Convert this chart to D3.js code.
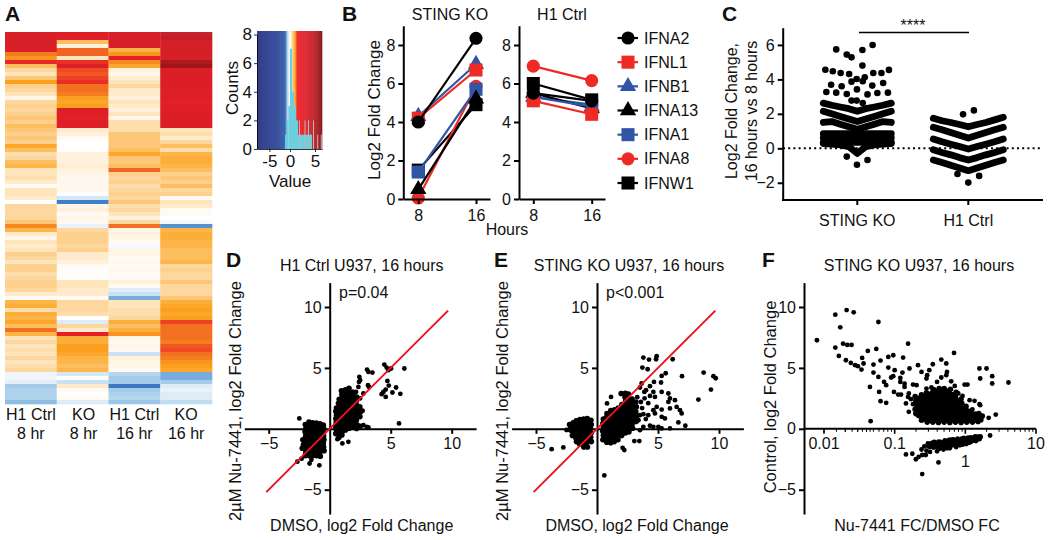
<!DOCTYPE html>
<html><head><meta charset="utf-8">
<script src="https://cdn.jsdelivr.net/npm/d3@7/dist/d3.min.js"></script>
<style>
html,body{margin:0;padding:0;background:#fff}
text{font-family:"Liberation Sans",Arial,sans-serif;fill:#111}
</style></head><body><svg id="c" width="1050" height="540"></svg>
<script>
// ---------- Panel A data
const heatColumns=["H1 Ctrl","KO","H1 Ctrl","KO"];
const heatHours=["8 hr","8 hr","16 hr","16 hr"];
const heatA=[3.2,3.2,3.2,3.2,3.0,1.7,1.5,2.5,1.0,.7,.5,.9,1.4,.8,.7,.5,.2,.7,.8,.7,.8,.9,.8,1.0,.9,.8,.9,.8,1.3,1.0,.6,.7,1.0,1.1,.5,.5,.6,.4,.1,.5,.5,.4,0,.7,.7,.7,.7,.9,1.6,1.1,.4,.2,.5,.4,.5,.8,.7,.5,.8,.8,.6,.7,.8,.8,.7,.4,.1,1.1,1.2,.6,1.2,1.1,1.3,1.0,1.8,1.1,.5,.7,.5,.6,.5,.7,.5,.6,.7,-.15,-.15,-.25,-.9,-.8,-.8,-.8,-1.1];
const heatB=[3,2.8,1.0,.3,1.9,1.9,.5,2.4,3,2.1,2.0,2.2,2.4,1.8,1.8,1.7,1.4,1.3,1.4,3,2.9,2.7,2.9,2.9,.4,.3,.1,0,0,0,.3,.3,.3,.35,.3,.2,.15,.15,.15,.15,-.05,-.4,-1.8,.2,.3,.1,.2,.1,-.2,.7,.8,.8,.8,.7,.8,.4,.4,.3,.1,.05,.05,.05,.5,.5,.4,.4,.1,.7,.7,.7,.6,0,-.3,.7,.4,2.6,1.2,1.2,1.4,1.4,1.3,1.1,1.1,1.0,1.1,-.4,0,-.5,.4,.1,0,.1,-.3];
const heatC=[3.2,3.2,3.2,3.2,1.1,1.5,2.7,1.6,1.3,.3,.2,.35,.5,.7,.4,.4,.3,.5,.4,.3,.5,.2,.6,.6,.6,.9,.9,.9,.9,1.0,1.3,.9,.9,1.0,1.9,.8,.7,.8,.6,.7,.8,.7,.9,.6,.7,.5,.3,.7,1.8,.2,.3,.2,.1,-.1,.2,.2,.1,.15,.1,.15,.1,.1,.3,.1,-.3,-.5,-1.3,.5,.5,.6,.6,.7,1.2,1.0,1.2,1.5,.2,.1,.2,.1,-.5,.3,.2,.2,.1,-.7,-.9,-.9,-2,-.9,-.8,-.7,-1.0];
const heatD=[3.8,4.2,3.3,3.3,3.3,3.4,3.3,5,5.5,3,3,3,3,3,2.9,2.9,2.9,2.7,2.8,2.9,3,3,3,3,.5,.6,.4,.7,1.0,.6,1.1,1.2,1.2,1.1,1.0,.8,.9,.8,1.0,.7,.8,.1,.5,.4,.1,.1,0,-.1,-1.6,1.1,1.2,1.2,1.1,1.1,1.0,1.0,1.0,1.1,.7,.8,.7,.7,.9,.7,.7,.7,.9,1.2,1.3,1.4,1.3,1.4,2.2,1.8,1.8,1.8,1.8,1.7,2.0,2.1,1.8,1.7,1.5,1.4,1.3,-1.3,-1.3,-.9,-.3,-.2,-.3,-.3,-.6];
const heatStopValues=[-8,-3,-1.8,-1,-.5,-.2,0,.3,.5,.8,1.1,1.4,1.7,2.1,2.6,4,5.5,7];
const heatStopColors=["#232f80","#2f4f9f","#3f80c8","#9cc6e8","#c9e1f3","#e9f2fa","#ffffff","#fff1dc","#fee5bc","#fdd08e","#fdb548","#fba01e","#f47d20","#ef4a24","#e61f26","#c4202a","#a01519","#7a0f12"];
const keyStopValues=[-8,-3,-1.2,-.6,0,.4,1,1.4,3,5.4,7];
const keyStopColors=["#232f80","#2c4596","#2f5fae","#bcdcf2","#ffffff","#fdd38a","#f9a01b","#ed1c24","#e0202a","#b01c20","#7a0f12"];
const histStart=[-1.2,-.8,-.4,0,.4,.8,1.2,1.6,2,2.4,2.8,3.2,3.6,4];
const histCounts=[1,2,3,7,4,3,2,1,1,1,1,1,1,1];
const histSparseValues=[1.9,3,3.7,4.7,5.76,6.8];
const histSparseCounts=[2,2,2,2,1,1];
// ---------- Panel B data
const geneNames=["IFNA2","IFNL1","IFNB1","IFNA13","IFNA1","IFNA8","IFNW1"];
const geneColors=["#000","#ee2a24","#2f55a4","#000","#2f55a4","#ee2a24","#000"];
const geneShapes=["circle","square","triangle","triangle","square","circle","square"];
const koValues=[[4.0,8.35],[4.2,6.7],[4.3,7.0],[.5,5.2],[1.4,5.7],[.05,5.85],[1.5,4.9]];
const h1Values=[[5.5,5.1],[5.1,4.4],[5.3,4.8],[5.5,4.7],[5.3,4.9],[6.9,6.15],[6.0,5.15]];
const hourTicks=[8,16];
// ---------- Panel C data
const cGroups=["STING KO","H1 Ctrl"];
const koBandSpread=[-1,-.75,-.5,-.25,0,.25,.5,.75,1];
const koBands=[[2.62,2.5,2.4,2.3,2.15,2.3,2.4,2.5,2.62],[2.15,2.0,1.85,1.7,1.55,1.7,1.85,2.0,2.15],[1.5,1.55,1.4,1.25,1.1,1.25,1.4,1.55,1.5],[.85,.85,.85,.85,.85,.85,.85,.85,.85],[.6,.6,.6,.6,.6,.6,.6,.6,.6],[.35,.35,.35,.35,.35,.35,.35,.35,.35],[.28,.25,.2,.1,-.3,.1,.2,.25,.28]];
const h1Bands=[[1.74,1.6,1.5,1.38,1.25,1.38,1.5,1.65,1.8],[1.22,1.08,.92,.76,.6,.76,.92,1.08,1.22],[.54,.38,.24,.1,-.04,.1,.24,.38,.54],[-.08,-.24,-.38,-.54,-.68,-.54,-.38,-.24,-.08],[-.68,-.82,-.98,-1.14,-1.3,-1.14,-.98,-.82,-.68]];
const koPoints=[[-.62,5.74],[-.31,5.44],[-.17,5.28],[.15,5.71],[.45,6.0],[.15,4.8],[-.94,4.56],[-.72,4.47],[-.49,4.37],[-.24,4.31],[-.02,4.02],[.22,4.12],[-.17,3.87],[.16,3.89],[.47,4.37],[.71,4.37],[.93,4.55],[-.77,3.69],[-.46,3.6],[-.01,3.42],[.44,3.64],[.76,3.79],[-.91,3.27],[-.62,3.23],[-.31,3.15],[.3,3.13],[.59,3.21],[.9,3.23],[-.17,2.77],[-.02,2.77],[.16,2.63],[-.31,-.48],[-.01,-.95],[.3,-.68]];
const h1Points=[[-.15,1.97],[.16,2.2],[-.31,-1.49],[.31,-1.6],[0,-1.99]];
// ---------- Panel D data
const dSparse=[[3.06,4.86],[3.17,4.67],[3.5,4.62],[2.43,4.26],[2.49,3.99],[2.4,3.85],[3.14,3.58],[3.22,3.44],[4.48,5.27],[4.67,5.03],[4.81,4.81],[5.03,4.95],[6.12,4.95],[4.73,3.93],[4.84,3.55],[5.44,3.39],[4.4,3.03],[4.26,2.84],[4.59,3.22],[4.59,2.62],[5.14,2.98],[5.79,2.87],[5.68,.44],[2.49,1.53],[2.7,1.48],[2.76,.3],[3.03,.16],[3.17,.11],[2.02,2.62],[2.49,2.49],[2.76,2.9],[2.35,3.44],[2.16,3.03],[1.04,-1.2],[1.53,-1.07],[.63,-.85],[-2.49,.85],[-2.65,-2.7],[-2.3,-2.45],[-1.65,-2.85],[-.85,-3.0],[-1.5,-2.55]];
const dRightBlob=[[.5,-.4],[.55,-.1],[.48,.2],[.53,.5],[.5,.82],[.56,1.1],[.5,1.42],[.55,1.7],[.75,-.72],[.72,-.3],[.78,0],[.74,.3],[.8,.62],[.73,.9],[.77,1.2],[.74,1.5],[.8,1.8],[.72,2.1],[.78,2.42],[1.0,-.5],[1.04,-.2],[.98,.1],[1.02,.4],[1.06,.7],[.98,1.0],[1.03,1.3],[.99,1.6],[1.05,1.9],[.97,2.2],[1.03,2.5],[1.0,2.82],[.96,3.12],[1.3,-.1],[1.27,.2],[1.33,.5],[1.28,.8],[1.32,1.1],[1.26,1.4],[1.34,1.7],[1.29,2.0],[1.33,2.3],[1.27,2.6],[1.32,2.92],[1.3,3.2],[1.6,.05],[1.63,.3],[1.57,.6],[1.62,.9],[1.58,1.2],[1.64,1.5],[1.59,1.8],[1.62,2.1],[1.57,2.4],[1.63,2.7],[1.6,3.02],[1.58,3.32],[1.9,.12],[1.88,.4],[1.93,.7],[1.87,1.0],[1.92,1.3],[1.89,1.6],[1.94,1.9],[1.88,2.2],[1.92,2.5],[1.9,2.8],[1.87,3.02],[2.2,.02],[2.24,.32],[2.18,.7],[2.22,1.1],[2.17,1.5],[2.23,1.9],[2.19,2.3],[2.21,2.6],[2.5,.2],[2.48,1.0],[2.52,1.4],[2.47,1.8]];
const dLeftBlob=[[-2.2,-.9],[-2.15,-1.3],[-2.25,-1.6],[-2.0,.35],[-1.95,.05],[-2.02,-.25],[-1.97,-.6],[-2.03,-.9],[-1.98,-1.2],[-2.02,-1.55],[-1.96,-1.9],[-2.0,-2.2],[-1.7,.55],[-1.66,.2],[-1.73,-.1],[-1.67,-.4],[-1.72,-.7],[-1.68,-1.0],[-1.74,-1.3],[-1.66,-1.6],[-1.72,-1.9],[-1.68,-2.2],[-1.4,.5],[-1.37,.2],[-1.43,-.12],[-1.38,-.42],[-1.42,-.72],[-1.36,-1.02],[-1.43,-1.32],[-1.38,-1.62],[-1.42,-1.92],[-1.37,-2.2],[-1.1,.48],[-1.07,.18],[-1.13,-.12],[-1.08,-.42],[-1.12,-.72],[-1.06,-1.02],[-1.13,-1.32],[-1.08,-1.62],[-1.12,-1.9],[-1.07,-2.2],[-.8,.42],[-.77,.12],[-.83,-.18],[-.78,-.48],[-.82,-.78],[-.76,-1.08],[-.83,-1.38],[-.78,-1.68],[-.82,-1.98],[-.77,-2.25],[-.52,.3],[-.48,0],[-.54,-.3],[-.5,-.6],[-.47,-.9],[-.53,-1.2],[-.5,-1.5],[-.46,-1.8]];
// ---------- Panel E data
const eSparse=[[3.8,5.85],[4.26,5.68],[4.89,5.96],[4.84,5.71],[6.2,5.71],[3.72,5.03],[4.15,4.89],[5.3,4.34],[5.63,4.56],[8.74,4.62],[6.97,4.32],[9.54,4.32],[9.73,4.15],[9.34,3.22],[8.31,2.4],[3.66,3.72],[3.52,3.39],[4.02,3.17],[3.88,3.03],[4.34,3.5],[4.67,3.85],[5.25,3.8],[4.62,3.03],[4.34,2.7],[4.75,2.62],[5.3,3.03],[5.85,2.9],[5.98,2.49],[5.85,2.21],[6.39,2.35],[6.53,1.8],[6.8,1.53],[6.94,1.26],[5.98,1.67],[5.3,1.58],[4.89,1.8],[4.62,1.53],[3.52,1.12],[3.8,1.2],[4.2,1.12],[4.75,1.26],[5.3,.98],[5.57,.85],[6.67,.52],[7.24,.25],[4.34,.25],[4.62,.16],[5.03,.16],[5.3,.03],[5.98,.03],[3.8,.16],[3.52,-.11],[3.06,-1.01],[3.47,-1.01],[2.1,-1.56],[2.24,-1.75],[.6,-3.83],[1.15,2.62],[.82,2.08],[-3.72,-1.67],[-2.76,-1.53],[-2.5,-.1],[-2.1,-.2],[3.6,2.2],[3.9,2.5],[4.2,2.1],[3.3,2.6],[3.4,.7],[4.0,.8],[3.7,1.7]];
const eRightBlob=[[.48,-.9],[.52,-.55],[.47,-.2],[.53,.12],[.49,.45],[.52,.8],[.8,-1.1],[.83,-.75],[.78,-.4],[.84,-.08],[.79,.25],[.83,.6],[.78,.95],[.82,1.25],[1.12,-1.15],[1.08,-.8],[1.14,-.45],[1.09,-.12],[1.13,.2],[1.07,.55],[1.12,.88],[1.08,1.2],[1.13,1.5],[1.42,-1.05],[1.38,-.72],[1.44,-.4],[1.39,-.08],[1.43,.25],[1.37,.58],[1.42,.9],[1.38,1.22],[1.44,1.55],[1.72,-.9],[1.68,-.58],[1.74,-.25],[1.69,.08],[1.73,.4],[1.67,.72],[1.72,1.05],[1.68,1.38],[1.74,1.7],[2.02,-.55],[1.98,-.25],[2.04,.08],[1.99,.4],[2.03,.72],[1.97,1.05],[2.02,1.38],[1.98,1.7],[2.04,2.0],[1.98,2.9],[2.32,-.35],[2.28,-.02],[2.34,.3],[2.29,.62],[2.33,.95],[2.27,1.28],[2.32,1.6],[2.28,1.92],[2.34,2.25],[2.3,2.6],[2.32,2.92],[2.62,-.25],[2.58,.08],[2.64,.42],[2.59,.75],[2.63,1.08],[2.57,1.4],[2.62,1.72],[2.58,2.05],[2.64,2.4],[2.58,2.85],[2.92,.05],[2.88,.4],[2.94,.75],[2.89,1.1],[2.93,1.42],[2.87,1.75],[2.92,2.1],[2.88,2.45],[3.2,.6],[3.24,1.0],[3.18,1.4],[3.23,1.8],[3.19,2.2]];
const eLeftBlob=[[-2.2,-.05],[-2.25,.35],[-1.95,.5],[-2,.15],[-1.96,-.2],[-2.02,-.55],[-1.7,.65],[-1.66,.3],[-1.72,-.05],[-1.67,-.4],[-1.73,-.75],[-1.68,-1.05],[-1.4,.75],[-1.37,.42],[-1.43,.1],[-1.38,-.25],[-1.42,-.6],[-1.36,-.95],[-1.43,-1.25],[-1.1,.8],[-1.07,.45],[-1.13,.12],[-1.08,-.22],[-1.12,-.55],[-1.06,-.88],[-1.13,-1.2],[-1.08,-1.5],[-.8,.85],[-.77,.5],[-.83,.18],[-.78,-.15],[-.82,-.5],[-.76,-.82],[-.83,-1.15],[-.78,-1.5],[-.5,.7],[-.47,.35],[-.53,0],[-.48,-.35],[-.52,-.7],[-.46,-1.05]];
// ---------- Panel F data  (log10 of FC, control log2 FC)
const fSparse=[[-2.1,7.27],[-1.84,9.37],[-1.68,9.75],[-1.58,9.56],[-1.77,8.33],[-1.23,8.77],[-1.84,6.67],[-1.73,6.99],[-1.67,6.89],[-1.61,6.89],[-1.79,5.98],[-1.69,5.63],[-1.62,5.41],[-1.56,5.22],[-1.52,5.14],[-1.47,4.86],[-1.46,5.82],[-1.44,5.36],[-1.38,6.39],[-1.26,6.56],[-1.2,5.6],[-1.09,5.9],[-1.02,6.04],[-1.3,5.27],[-1.3,4.62],[-1.23,4.26],[-1.35,3.44],[-1.22,3.03],[-1.2,2.27],[-1.12,2.13],[-1.34,.63],[-1.15,3.85],[-1.12,3.58],[-1.09,5.03],[-1.0,4.81],[-1.02,4.32],[-1.05,4.21],[-1.01,3.03],[-.95,2.81],[-.91,2.81],[-.92,4.18],[-.89,4.62],[-.92,3.85],[-.86,3.44],[-.79,4.95],[-.81,6.99],[-.88,5.85],[-.67,5.22],[-.62,4.67],[-.55,4.13],[-.54,4.4],[-.51,4.81],[-.46,5.3],[-.34,5.68],[-.27,5.36],[-.26,4.67],[-.27,4.4],[-.34,4.21],[-.4,3.85],[-.16,6.23],[-.15,3.52],[-.01,3.63],[.03,3.63],[-.04,2.7],[.06,2.35],[.13,2.3],[.2,2.02],[.21,1.94],[.2,4.95],[.21,4.13],[.3,4.95],[.38,4.32],[.38,3.72],[.61,3.8],[.43,1.17],[.33,.9],[-.8,2.9],[-.81,2.62],[-.77,2.43],[-.8,1.39],[-.84,2.08],[-.74,2.02],[-.69,3.58],[-.74,3.63],[-.86,3.7],[-.2,3.9],[-.48,3.4],[-.55,3.3],[-.1,2.9],[.1,1.6],[.14,1.25]];
const fBlob=[[-.7,1.25],[-.71,1.6],[-.69,1.95],[-.7,2.3],[-.71,2.65],[-.62,.7],[-.63,1.05],[-.61,1.4],[-.62,1.75],[-.63,2.1],[-.61,2.45],[-.62,2.8],[-.54,.55],[-.55,.85],[-.53,1.2],[-.54,1.55],[-.55,1.9],[-.53,2.25],[-.54,2.6],[-.55,2.95],[-.46,.55],[-.47,.85],[-.45,1.2],[-.46,1.55],[-.47,1.9],[-.45,2.25],[-.46,2.6],[-.47,2.95],[-.45,3.22],[-.38,.52],[-.39,.85],[-.37,1.2],[-.38,1.55],[-.39,1.9],[-.37,2.25],[-.38,2.6],[-.39,2.95],[-.37,3.3],[-.3,.55],[-.31,.85],[-.29,1.2],[-.3,1.55],[-.31,1.9],[-.29,2.25],[-.3,2.55],[-.29,2.95],[-.3,3.3],[-.22,.52],[-.23,.85],[-.21,1.2],[-.22,1.55],[-.23,1.9],[-.21,2.25],[-.22,2.6],[-.23,2.95],[-.21,3.25],[-.14,.55],[-.15,.85],[-.13,1.2],[-.14,1.55],[-.15,1.9],[-.13,2.25],[-.14,2.6],[-.13,3.0],[-.06,.52],[-.07,.85],[-.05,1.15],[-.06,1.45],[-.07,1.8],[-.05,2.1],[-.06,2.45],[.02,.55],[.01,.85],[.03,1.15],[.02,1.5],[.01,1.85],[.1,.55],[.09,.85],[.11,1.15],[.08,1.45],[.18,.6],[.17,.95],[.19,1.25]];
const fBlobFill=[[-.66,1.1],[-.66,1.45],[-.67,1.8],[-.66,2.15],[-.66,2.5],[-.58,.8],[-.58,1.2],[-.59,1.55],[-.58,1.95],[-.58,2.3],[-.59,2.65],[-.5,.7],[-.5,1.05],[-.51,1.4],[-.5,1.75],[-.5,2.1],[-.51,2.45],[-.5,2.8],[-.42,.7],[-.42,1.05],[-.43,1.4],[-.42,1.75],[-.42,2.1],[-.43,2.45],[-.42,2.8],[-.42,3.1],[-.34,.7],[-.34,1.05],[-.35,1.4],[-.34,1.75],[-.34,2.1],[-.35,2.45],[-.34,2.8],[-.34,3.15],[-.26,.7],[-.26,1.05],[-.27,1.4],[-.26,1.75],[-.26,2.1],[-.27,2.4],[-.26,2.75],[-.26,3.1],[-.18,.7],[-.18,1.05],[-.19,1.4],[-.18,1.75],[-.18,2.1],[-.19,2.45],[-.18,2.8],[-.1,.7],[-.1,1.05],[-.11,1.35],[-.1,1.7],[-.1,2.0],[-.11,2.3],[-.02,.7],[-.02,1.05],[-.03,1.35],[-.02,1.65],[.06,.7],[.06,1.0],[.05,1.3],[.14,.72],[.14,1.05],[.22,.75],[.24,1.05]];
const fLower=[[-.75,-2.05],[-.7,-2.5],[-.66,-2.3],[-.61,-2.15],[-.56,-2.15],[-.5,-1.9],[-.61,-3.72],[-.38,-2.76],[-.84,-2.1],[-.62,-1.7],[-.58,-1.45],[-.55,-1.8],[-.53,-1.2],[-.5,-1.5],[-.47,-1.15],[-.45,-1.55],[-.42,-1.25],[-.4,-1.85],[-.38,-1.05],[-.36,-1.45],[-.33,-1.2],[-.31,-1.7],[-.29,-.95],[-.27,-1.35],[-.24,-1.1],[-.22,-1.6],[-.2,-.9],[-.18,-1.3],[-.15,-1.05],[-.13,-1.5],[-.11,-.8],[-.09,-1.2],[-.06,-.95],[-.04,-1.3],[-.02,-.75],[0,-1.1],[.03,-.85],[.05,-1.15],[.08,-.7],[.1,-1.0],[.13,-.75],[.15,-1.0],[.18,-.65],[.2,-.85],[.35,-.55]];
const fLowerFill=[[-.52,-1.4],[-.49,-1.25],[-.46,-1.4],[-.44,-1.1],[-.41,-1.45],[-.39,-1.25],[-.37,-1.6],[-.35,-1.1],[-.34,-1.35],[-.3,-1.4],[-.28,-1.1],[-.26,-1.55],[-.25,-1.25],[-.23,-.95],[-.21,-1.4],[-.19,-1.1],[-.17,-.9],[-.16,-1.25],[-.14,-1.35],[-.12,-1.0],[-.1,-.95],[-.08,-1.3],[-.07,-1.1],[-.05,-.85],[-.03,-1.1],[-.01,-.9],[.01,-1.2],[.02,-.95],[.04,-.75],[.07,-1.05],[.09,-.85],[.12,-.9],[.14,-.65],[.16,-.85],[.19,-.75],[.21,-.65]];

const svg=d3.select("#c");
const FS=16;
function txt(x,y,s,o={}){
  const t=svg.append("text").attr("x",x).attr("y",y).text(s).attr("font-size",o.size||FS).attr("text-anchor",o.anchor||"middle");
  if(o.bold)t.attr("font-weight","bold");
  if(o.rot)t.attr("transform",`rotate(-90 ${x} ${y})`);
  return t;
}
function styleAxis(g,sw=2){
  g.selectAll("path,line").attr("stroke","#000").attr("stroke-width",sw);
  g.selectAll("text").attr("font-size",FS).attr("font-family",'"Liberation Sans",Arial,sans-serif').attr("fill","#111");
  return g;
}
[["A",5,21],["B",342,21],["C",722,21],["D",226,267],["E",494,267],["F",762,267]].forEach(d=>txt(d[1],d[2],d[0],{bold:true,size:21,anchor:"start"}));

// ---- A
const heatColor=d3.scaleLinear().domain(heatStopValues).range(heatStopColors).clamp(true);
const heatCols=[heatA,heatB,heatC,heatD];
const hx=d3.scaleBand().domain(d3.range(4)).range([5,212]);
const hy=d3.scaleBand().domain(d3.range(heatA.length)).range([32,404]);
heatCols.forEach((col,i)=>{
  svg.append("g").selectAll("rect").data(col).join("rect")
   .attr("x",hx(i)).attr("width",hx.bandwidth()+.3).attr("y",(d,j)=>hy(j)).attr("height",hy.bandwidth()+.3).attr("fill",d=>heatColor(d));
  txt(hx(i)+hx.bandwidth()/2+(i==1?1:0),420,heatColumns[i]);
  txt(hx(i)+hx.bandwidth()/2+(i==1?1:0),439,heatHours[i]);
});
const kx=d3.scaleLinear().domain([-8,0,5,7]).range([257,290,315,322]);
const ky=d3.scaleLinear().domain([0,8]).range([149,34.5]);
const keyColor=d3.scaleLinear().domain(keyStopValues).range(keyStopColors);
const keyVals=d3.range(-8,7,.1);
svg.append("g").selectAll("rect").data(keyVals).join("rect").attr("x",d=>kx(d)).attr("width",d=>kx(d+.1)-kx(d)+.3).attr("y",31).attr("height",118).attr("fill",d=>keyColor(d));
svg.append("g").selectAll("rect").data(histStart).join("rect").attr("x",d=>kx(d)).attr("width",d=>kx(d+.4)-kx(d)).attr("y",(d,i)=>ky(histCounts[i])).attr("height",(d,i)=>149-ky(histCounts[i])).attr("fill","#6ccfe0");
svg.append("g").selectAll("line").data(histSparseValues).join("line").attr("x1",d=>kx(d)).attr("x2",d=>kx(d)).attr("y1",149).attr("y2",(d,i)=>ky(histSparseCounts[i])).attr("stroke","#b9b9b9").attr("stroke-width",1);
styleAxis(svg.append("g").attr("transform","translate(257,0)").call(d3.axisLeft(ky).tickValues([0,2,4,6,8]).tickSize(3).tickSizeOuter(0).tickPadding(2)),.8).selectAll("text").attr("font-size",17);
styleAxis(svg.append("g").attr("transform","translate(0,149)").call(d3.axisBottom(kx).tickValues([-5,0,5]).tickFormat(d=>d<0?"-"+(-d):d).tickSize(3).tickSizeOuter(0).tickPadding(3)),.8).selectAll("text").attr("font-size",17);
txt(233,88,"Counts",{rot:true,size:17,anchor:"middle"}).attr("dy",5);
txt(290,187,"Value",{size:17});

// ---- B
const by=d3.scaleLinear().domain([0,9]).range([199,25.75]);
const symMap={circle:d3.symbol().type(d3.symbolCircle).size(135),square:d3.symbol().type(d3.symbolSquare).size(170),triangle:d3.symbol().type(d3.symbolTriangle).size(115)};
function linePanel(x0,x8,x16,xEnd,vals){
  const x=d3.scaleLinear().domain(hourTicks).range([x8,x16]);
  const order=d3.range(geneNames.length).reverse();
  const g=svg.append("g");
  order.forEach(i=>{
    const pts=hourTicks.map((h,j)=>[x(h),by(vals[i][j])]);
    g.append("path").attr("d",d3.line()(pts)).attr("stroke",geneColors[i]).attr("stroke-width",2.2).attr("fill","none");
    pts.forEach(p=>g.append("path").attr("d",symMap[geneShapes[i]]()).attr("transform",`translate(${p[0]},${p[1]})`).attr("fill",geneColors[i]));
  });
  styleAxis(svg.append("g").attr("transform",`translate(${x0},0)`).call(d3.axisLeft(by).tickValues([0,2,4,6,8]).tickSize(5).tickSizeOuter(0).tickPadding(3)));
  const xa=d3.scaleLinear().domain([(x0-x8)*8/(x16-x8)+8,(xEnd-x8)*8/(x16-x8)+8]).range([x0,xEnd]);
  styleAxis(svg.append("g").attr("transform","translate(0,199)").call(d3.axisBottom(xa).tickValues(hourTicks).tickSize(5).tickSizeOuter(0).tickPadding(6)));
}
linePanel(403.3,418.3,476,490,koValues);
linePanel(519,533.3,591.7,605,h1Values);
txt(450,20,"STING KO");txt(562,20,"H1 Ctrl");txt(507,235,"Hours");
txt(380,110,"Log2 Fold Change",{rot:true,size:17});
const legY=d3.scalePoint().domain(geneNames).range([38,183]);
geneNames.forEach((n,i)=>{
  const y=legY(n);
  svg.append("line").attr("x1",617.5).attr("x2",638).attr("y1",y).attr("y2",y).attr("stroke",geneColors[i]).attr("stroke-width",2.2);
  svg.append("path").attr("d",symMap[geneShapes[i]]()).attr("transform",`translate(628,${y})`).attr("fill",geneColors[i]);
  txt(644,y+5.5,n,{anchor:"start"});
});

// ---- C
const cy=d3.scaleLinear().domain([-3,7]).range([200,27.7]);
const cxKO=d3.scaleLinear().domain([-1,1]).range([857.3-34,857.3+34]);
const cxH1=d3.scaleLinear().domain([-1,1]).range([968.3-35,968.3+35]);
svg.append("line").attr("x1",783).attr("x2",1042).attr("y1",cy(0)).attr("y2",cy(0)).attr("stroke","#000").attr("stroke-width",2).attr("stroke-dasharray","2 3.2");
function swarm(sx,bands,pts){
  const g=svg.append("g");
  const l=d3.line().x((d,i)=>sx(koBandSpread[i])).y(d=>cy(d));
  bands.forEach(b=>g.append("path").attr("d",l(b)).attr("fill","none").attr("stroke","#000").attr("stroke-width",6.8).attr("stroke-linecap","round").attr("stroke-linejoin","round"));
  g.selectAll("circle").data(pts).join("circle").attr("cx",d=>sx(d[0])).attr("cy",d=>cy(d[1])).attr("r",3.3).attr("fill","#000");
}
swarm(cxKO,koBands,koPoints);swarm(cxH1,h1Bands,h1Points);
styleAxis(svg.append("g").attr("transform","translate(782.7,0)").call(d3.axisLeft(cy).tickValues([-2,0,2,4,6]).tickSize(5).tickSizeOuter(0).tickPadding(3)));
const cxa=d3.scalePoint().domain(cGroups).range([857.3,968.3]);
svg.append("line").attr("x1",782).attr("x2",1043).attr("y1",200).attr("y2",200).attr("stroke","#000").attr("stroke-width",2);
cGroups.forEach(c=>{svg.append("line").attr("x1",cxa(c)).attr("x2",cxa(c)).attr("y1",200).attr("y2",205).attr("stroke","#000").attr("stroke-width",2);txt(cxa(c),226,c);});
svg.append("line").attr("x1",859).attr("x2",969).attr("y1",32.5).attr("y2",32.5).attr("stroke","#000").attr("stroke-width",1.6);
txt(913,31,"****",{size:16});
txt(737,111,"Log2 Fold Change,",{rot:true});
txt(757,111,"16 hours vs 8 hours",{rot:true});

// ---- D E F
const yScale=d3.scaleLinear().domain([-5,10]).range([489.7,307]);
function dots(g,pts,x,r){g.selectAll(null).data(pts).join("circle").attr("cx",d=>x(d[0])).attr("cy",d=>yScale(d[1])).attr("r",r).attr("fill","#000");}
function scatter(x0,blobs,sparse,title,titleX,pText,pX,xLabelX,yLabX){
  const x=d3.scaleLinear().domain([-5,10]).range([x0-61,x0+122]);
  const g=svg.append("g");
  blobs.forEach(p=>dots(g,p,x,2.8));
  dots(g,sparse,x,2.4);
  styleAxis(svg.append("g").attr("transform",`translate(${x0},0)`).call(d3.axisLeft(d3.scaleLinear().domain([-7,12]).range([yScale(-7),yScale(12)])).tickValues([-5,5,10]).tickSize(5).tickSizeOuter(0).tickPadding(3)));
  styleAxis(svg.append("g").attr("transform",`translate(0,${yScale(0)})`).call(d3.axisBottom(x.copy().domain([-7,12]).range([x(-7),x(12)])).tickValues([-5,5,10]).tickSize(5).tickSizeOuter(0).tickPadding(4)));
  svg.append("line").attr("x1",x(-5.2)).attr("y1",yScale(-5.2)).attr("x2",x(9.7)).attr("y2",yScale(9.7)).attr("stroke","#e8161d").attr("stroke-width",2);
  txt(titleX,271,title);
  txt(pX,298,pText,{anchor:"start"});
  txt(xLabelX,531,"DMSO, log2 Fold Change");
  txt(yLabX,401,"2µM Nu-7441, log2 Fold Change",{rot:true,size:16.5});
}
scatter(329.7,[dLeftBlob,dRightBlob],dSparse,"H1 Ctrl U937, 16 hours",361.7,"p=0.04",339,361.7,241);
scatter(597,[eLeftBlob,eRightBlob],eSparse,"STING KO U937, 16 hours",629,"p<0.001",606,637,508);

const fx=d3.scaleLog().domain([.01,10]).range([824,1036]);
const toFC=d=>[Math.pow(10,d[0]),d[1]];
dots(svg.append("g"),[...fSparse,...fLower].map(toFC),fx,2.4);
dots(svg.append("g"),[...fBlob,...fBlobFill,...fLowerFill].map(toFC),fx,2.8);
styleAxis(svg.append("g").attr("transform","translate(804,0)").call(d3.axisLeft(d3.scaleLinear().domain([-7,12]).range([yScale(-7),yScale(12)])).tickValues([-5,0,5,10]).tickSize(5).tickSizeOuter(0).tickPadding(3)));
const fMinor=[];[.005,.01,.1,1].forEach(b=>d3.range(2,10).forEach(k=>{const v=b*k;if(v>=fx.invert(804)&&v<10)fMinor.push(v);}));
const fa=svg.append("g").attr("transform",`translate(0,${yScale(0)})`);
fa.append("line").attr("x1",804).attr("x2",1036).attr("stroke","#000").attr("stroke-width",2);
fa.selectAll(".m").data(fMinor).join("line").attr("x1",d=>fx(d)).attr("x2",d=>fx(d)).attr("y1",0).attr("y2",3).attr("stroke","#000").attr("stroke-width",1);
fa.selectAll(".M").data([.01,.1,1,10]).join("line").attr("x1",d=>fx(d)).attr("x2",d=>fx(d)).attr("y1",0).attr("y2",5).attr("stroke","#000").attr("stroke-width",1.6);
[.01,.1,10].forEach(v=>txt(fx(v),449,String(v)));
txt(fx(1),467,"1");
txt(919,271,"STING KO U937, 16 hours");
txt(917,531,"Nu-7441 FC/DMSO FC");
txt(776,397,"Control, log2 Fold Change",{rot:true,size:16.5});
</script></body></html>
